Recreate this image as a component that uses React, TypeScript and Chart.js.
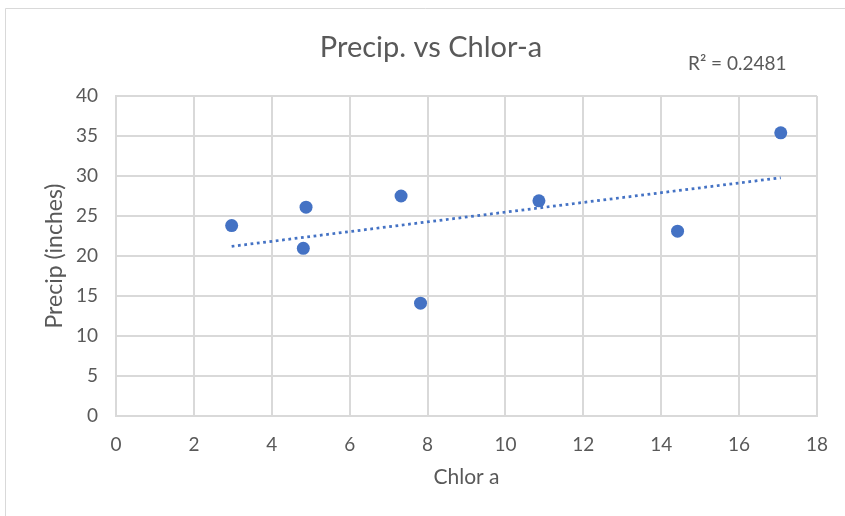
import React, { useEffect, useRef } from "react";
import { Chart, registerables } from "chart.js";

Chart.register(...registerables);

const chartTitle = "Precip. vs Chlor-a";
const xAxisTitle = "Chlor a";
const yAxisTitle = "Precip (inches)";
const rSquaredLabel = "R² = 0.2481";

const chlorA = [2.97, 4.88, 4.81, 7.32, 7.82, 10.86, 14.42, 17.07];
const precip = [23.8, 26.1, 20.96, 27.5, 14.1, 26.9, 23.1, 35.4];

const xMin = 0;
const xMax = 18;
const xStep = 2;
const yMin = 0;
const yMax = 40;
const yStep = 5;

const FONT = "Lato, 'Open Sans', sans-serif";
const TEXT = "#595959";
const GRID = "#d9d9d9";
const BLUE = "#4472C4";

function linearFit(xs: number[], ys: number[]) {
  const n = xs.length;
  const mx = xs.reduce((a, b) => a + b, 0) / n;
  const my = ys.reduce((a, b) => a + b, 0) / n;
  let sxy = 0;
  let sxx = 0;
  for (let i = 0; i < n; i++) {
    sxy += (xs[i] - mx) * (ys[i] - my);
    sxx += (xs[i] - mx) * (xs[i] - mx);
  }
  const slope = sxy / sxx;
  return { slope, intercept: my - slope * mx };
}

export default function App() {
  const ref = useRef<HTMLCanvasElement | null>(null);

  useEffect(() => {
    document.body.style.margin = "0";
    const canvas = ref.current;
    if (!canvas) return;

    const fit = linearFit(chlorA, precip);
    const x0 = Math.min(...chlorA);
    const x1 = Math.max(...chlorA);
    const trend = [
      { x: x0, y: fit.intercept + fit.slope * x0 },
      { x: x1, y: fit.intercept + fit.slope * x1 },
    ];
    const points = chlorA.map((x, i) => ({ x, y: precip[i] }));

    const decor = {
      id: "decor",
      beforeDraw(chart: any) {
        const ctx = chart.ctx;
        ctx.save();
        ctx.fillStyle = "#ffffff";
        ctx.fillRect(0, 0, chart.width, chart.height);
        ctx.strokeStyle = GRID;
        ctx.lineWidth = 1;
        ctx.beginPath();
        ctx.moveTo(5.5, chart.height);
        ctx.lineTo(5.5, 8.5);
        ctx.lineTo(chart.width, 8.5);
        ctx.stroke();
        ctx.restore();
      },
      afterDraw(chart: any) {
        const ctx = chart.ctx;
        ctx.save();
        ctx.fillStyle = TEXT;
        ctx.textBaseline = "middle";
        ctx.textAlign = "center";
        ctx.font = `29px ${FONT}`;
        ctx.fillText(chartTitle, 431, 48);
        ctx.textAlign = "left";
        ctx.font = `19px ${FONT}`;
        ctx.fillText(rSquaredLabel, 688, 64);
        ctx.restore();
      },
    };

    const chart = new Chart(canvas, {
      type: "scatter",
      data: {
        datasets: [
          {
            label: "Trend",
            data: trend,
            showLine: true,
            borderColor: BLUE,
            borderWidth: 2.75,
            borderDash: [2.75, 3.6],
            pointRadius: 0,
            fill: false,
          } as any,
          {
            label: "Precip",
            data: points,
            backgroundColor: BLUE,
            borderColor: BLUE,
            pointRadius: 6.5,
            borderWidth: 0,
          },
        ],
      },
      options: {
        animation: false,
        responsive: false,
        layout: { padding: { top: 96, right: 26, bottom: 0, left: 0 } },
        plugins: {
          legend: { display: false },
          tooltip: { enabled: false },
          title: { display: false },
        },
        scales: {
          x: {
            type: "linear",
            min: xMin,
            max: xMax,
            ticks: {
              stepSize: xStep,
              color: TEXT,
              font: { family: FONT, size: 19 },
              padding: 17,
              maxRotation: 0,
            },
            grid: { color: GRID, lineWidth: 2, drawTicks: false },
            border: { color: GRID, width: 2 },
            title: {
              display: true,
              text: xAxisTitle,
              color: TEXT,
              font: { family: FONT, size: 21 },
              padding: { top: 0, bottom: 26 },
            },
            afterFit(scale: any) {
              scale.height = 100;
            },
          },
          y: {
            type: "linear",
            min: yMin,
            max: yMax,
            ticks: {
              stepSize: yStep,
              color: TEXT,
              font: { family: FONT, size: 19 },
              padding: 18,
            },
            grid: { color: GRID, lineWidth: 2, drawTicks: false },
            border: { color: GRID, width: 2 },
            title: {
              display: true,
              text: yAxisTitle,
              color: TEXT,
              font: { family: FONT, size: 23 },
              padding: { top: 41, bottom: 0 },
            },
            afterFit(scale: any) {
              scale.width = 116;
            },
          },
        },
      },
      plugins: [decor],
    });

    return () => chart.destroy();
  }, []);

  return <canvas ref={ref} width={845} height={516} style={{ display: "block" }} />;
}
